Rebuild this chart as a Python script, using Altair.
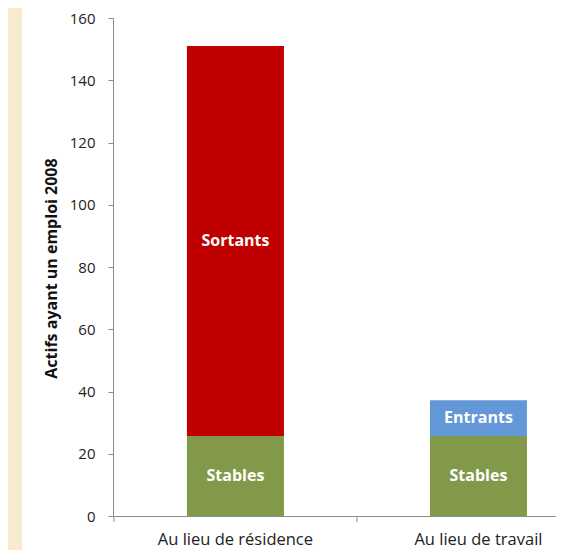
import altair as alt
import pandas as pd

categories = ["Au lieu de résidence", "Au lieu de résidence", "Au lieu de travail", "Au lieu de travail"]
segments = ["Stables", "Sortants", "Stables", "Entrants"]
values = [25.7, 125.3, 25.7, 11.5]
stack_order = [1, 2, 1, 2]
cat_list = ["Au lieu de résidence", "Au lieu de travail"]

seg_domain = ["Stables", "Sortants", "Entrants"]
seg_colors = ["#82994a", "#c00000", "#6398d8"]
y_ticks = [0, 20, 40, 60, 80, 100, 120, 140, 160]

df = pd.DataFrame({"category": categories, "segment": segments,
                   "value": values, "ord": stack_order})

FONT = "Open Sans"
GREY = "#8c8c8c"
W, H = 443, 498
P_INNER, P_OUTER, ALIGN = 0.6008, 0.2119, 0.718
STEP = W / (len(cat_list) - P_INNER + 2 * P_OUTER)

base = alt.Chart(df).transform_window(
    cum="sum(value)", groupby=["category"], sort=[alt.SortField("ord")],
    frame=[None, 0]
).transform_calculate(
    start="datum.cum - datum.value",
    mid="datum.cum - datum.value / 2",
)

xscale = alt.Scale(domain=cat_list, paddingInner=P_INNER, paddingOuter=P_OUTER, align=ALIGN)
yscale = alt.Scale(domain=[0, 160], nice=False)

bars = base.mark_bar().encode(
    x=alt.X("category:N", scale=xscale, sort=None,
            axis=alt.Axis(title=None, labelAngle=0, labelFont=FONT, labelFontSize=16.5,
                          labelColor="#222", ticks=False, tickSize=0,
                          domainColor=GREY, labelPadding=28,
                          labelBaseline="alphabetic")),
    y=alt.Y("start:Q", scale=yscale,
            axis=alt.Axis(values=y_ticks, grid=False, tickSize=5, tickColor=GREY,
                          domainColor=GREY, labelFont=FONT, labelFontSize=15,
                          labelColor="#222", labelPadding=13,
                          title="Actifs ayant un emploi 2008", titleFont=FONT,
                          titleFontSize=16, titleFontWeight="bold", titleColor="#111",
                          titleX=-62, titleY=250, titleAngle=-90,
                          titleAlign="center", titleBaseline="middle")),
    y2="cum:Q",
    color=alt.Color("segment:N", scale=alt.Scale(domain=seg_domain, range=seg_colors),
                    legend=None),
)

labels = base.mark_text(color="white", font=FONT, fontWeight="bold", fontSize=16,
                        baseline="middle").encode(
    x=alt.X("category:N", sort=None),
    y=alt.Y("mid:Q"),
    text="segment:N",
)

# category-separator ticks, half an inner padding before each band
xticks = alt.Chart(pd.DataFrame({"category": cat_list})).mark_rule(color=GREY).encode(
    x=alt.X("category:N", bandPosition=0),
    xOffset=alt.value(-P_INNER * STEP / 2),
    y=alt.value(H), y2=alt.value(H + 6),
)

deco = alt.Chart(pd.DataFrame({"d": [0]})).mark_rect(color="#f6ebcc", clip=False).encode(
    x=alt.value(-105), x2=alt.value(-91), y=alt.value(-10), y2=alt.value(H + 34)
)

chart = alt.layer(deco, bars, labels, xticks).properties(
    width=W, height=H,
    padding={"left": 105, "top": 10, "right": 0, "bottom": 34},
    autosize=alt.AutoSizeParams(type="none"),
    background="white",
).configure_view(stroke=None)

chart.save("out.html", embed_options={"renderer": "svg", "actions": False})
